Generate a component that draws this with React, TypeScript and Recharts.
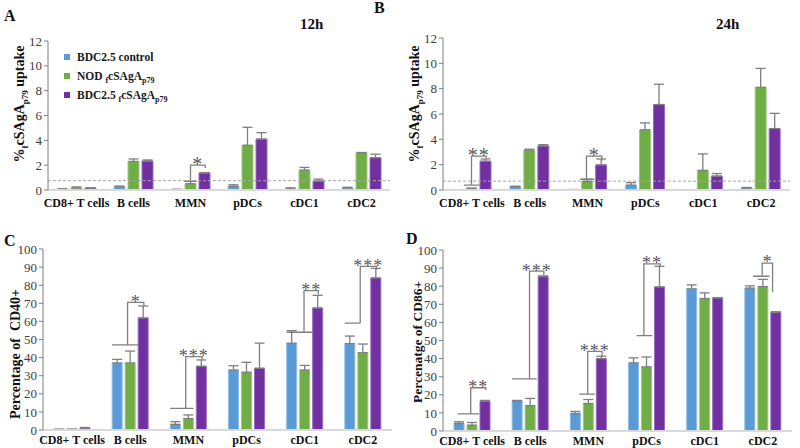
import React from 'react';
import { BarChart, Bar, XAxis, YAxis, ErrorBar, ReferenceLine, Legend, Rectangle } from 'recharts';

const cells = ['CD8+ T cells', 'B cells', 'MMN', 'pDCs', 'cDC1', 'cDC2'];

// A: uptake at 12h
const up12Control = [0.05, 0.25, 0.04, 0.3, 0.08, 0.15];
const up12ControlSd = [0.05, 0.07, 0.02, 0.12, 0.1, 0.07];
const up12Nod = [0.15, 2.3, 0.5, 3.6, 1.6, 2.98];
const up12NodSd = [0.1, 0.2, 0.2, 1.45, 0.22, 0.04];
const up12Bdc = [0.15, 2.33, 1.37, 4.1, 0.72, 2.6];
const up12BdcSd = [0.03, 0.09, 0.03, 0.52, 0.16, 0.28];

// B: uptake at 24h
const up24Control = [0.02, 0.27, 0.03, 0.38, 0, 0.15];
const up24ControlSd = [0.01, 0.03, 0.01, 0.2, 0, 0.05];
const up24Nod = [0.12, 3.15, 0.68, 4.75, 1.55, 8.1];
const up24NodSd = [0.03, 0.07, 0.17, 0.55, 1.3, 1.5];
const up24Bdc = [2.27, 3.48, 1.98, 6.75, 1.1, 4.85];
const up24BdcSd = [0.18, 0.1, 0.47, 1.6, 0.2, 1.2];

// C: CD40+
const cd40Control = [0.3, 37, 3.1, 33.1, 47.9, 47.7];
const cd40ControlSd = [0.2, 2, 1.5, 2.4, 7, 4.2];
const cd40Nod = [0.3, 37, 6.3, 31.9, 33.1, 42.7];
const cd40NodSd = [0.2, 6.6, 2, 5.5, 2.6, 4.8];
const cd40Bdc = [1.1, 61.9, 35.2, 34.1, 67.4, 84];
const cd40BdcSd = [0.3, 6.6, 3.5, 13.9, 7, 5.3];

// D: CD86+
const cd86Control = [4.2, 16.5, 9.7, 37.6, 78.5, 78.9];
const cd86ControlSd = [0.9, 0.4, 1.1, 2.8, 2.2, 1.3];
const cd86Nod = [3.2, 14, 15.2, 35.4, 73.2, 79.8];
const cd86NodSd = [1.5, 4, 2.2, 5.5, 3.1, 4];
const cd86Bdc = [16.5, 85.3, 40, 79.6, 73.4, 65.5];
const cd86BdcSd = [0.4, 0.4, 1.3, 11.4, 0.3, 0.4];

const uptakeTicks = [0, 2, 4, 6, 8, 10, 12];
const percentTicks = [0, 10, 20, 30, 40, 50, 60, 70, 80, 90, 100];

// significance brackets: heights in data units, horizontal spots in bar slots (0 blue, 1 green, 2 purple)
type Bracket = { cell: string; low: number; from: number; to: number; vert: number; top: number; end: number; at?: number; stars: string };

const bracketsA: Bracket[] = [
  { cell: 'MMN', low: 0.7, from: 0.55, to: 1.45, vert: 1, top: 2.0, end: 1.78, stars: '*' },
];
const bracketsB: Bracket[] = [
  { cell: 'CD8+ T cells', low: 0.39, from: 0.45, to: 1.6, vert: 1, top: 2.68, end: 2.5, stars: '**' },
  { cell: 'MMN', low: 0.85, from: 0.5, to: 1.5, vert: 0.95, top: 2.68, end: 2.3, stars: '*' },
];
const bracketsC: Bracket[] = [
  { cell: 'B cells', low: 47, from: -0.4, to: 1.6, vert: 0.8, top: 70.5, end: 68.5, stars: '*' },
  { cell: 'MMN', low: 12, from: -0.4, to: 1.4, vert: 0.8, top: 40.5, end: 38.7, stars: '***' },
  { cell: 'cDC1', low: 54, from: -0.4, to: 1.6, vert: 0.95, top: 77, end: 75, stars: '**' },
  { cell: 'cDC2', low: 59, from: -0.4, to: 0.75, vert: 0.8, top: 90.4, end: 88.6, stars: '***' },
];
const bracketsD: Bracket[] = [
  { cell: 'CD8+ T cells', low: 9.5, from: -0.1, to: 1.55, vert: 0.9, top: 23.9, end: 22.5, stars: '**' },
  { cell: 'B cells', low: 28.8, from: -0.4, to: 1.5, vert: 0.95, top: 88.3, end: 86.2, stars: '***' },
  { cell: 'MMN', low: 20.4, from: 0.3, to: 1.5, vert: 0.95, top: 44, end: 41.5, stars: '***' },
  { cell: 'pDCs', low: 52.7, from: 0.25, to: 1.45, vert: 0.8, top: 92.3, end: 91, stars: '**' },
  { cell: 'cDC2', low: 85.5, from: 0.25, to: 1.5, vert: 0.95, top: 92.8, end: 76.7, at: 1.75, stars: '*' },
];

const BLUE = '#5B9BD5';
const GREEN = '#70AD47';
const PURPLE = '#7030A0';
const SERIF = '"Liberation Serif", "Times New Roman", serif';
const BAR_GAP = 3;

function buildRows(c: number[], cs: number[], n: number[], ns: number[], b: number[], bs: number[]) {
  return cells.map((cell, i) => ({
    cell,
    control: c[i], controlErr: [0, cs[i]],
    nod: n[i], nodErr: [0, ns[i]],
    bdc: b[i], bdcErr: [0, bs[i]],
  }));
}

const rowsA = buildRows(up12Control, up12ControlSd, up12Nod, up12NodSd, up12Bdc, up12BdcSd);
const rowsB = buildRows(up24Control, up24ControlSd, up24Nod, up24NodSd, up24Bdc, up24BdcSd);
const rowsC = buildRows(cd40Control, cd40ControlSd, cd40Nod, cd40NodSd, cd40Bdc, cd40BdcSd);
const rowsD = buildRows(cd86Control, cd86ControlSd, cd86Nod, cd86NodSd, cd86Bdc, cd86BdcSd);

// purple bar draws itself plus the bracket sitting on its group
const purpleShape = (brackets: Bracket[], starSize: number) => (props: any) => {
  const { x, y, width, height, payload } = props;
  const b = brackets.find((d) => d.cell === payload.cell);
  let extra = null;
  if (b && payload.bdc > 0 && height > 0) {
    const base = y + height;
    const ppu = height / payload.bdc;
    const py = (v: number) => base - v * ppu;
    const step = width + BAR_GAP;
    const px = (s: number) => x + width / 2 + (s - 2) * step;
    const at = b.at ?? 2.05;
    const d = `M${px(b.from)},${py(b.low)}H${px(b.to)}M${px(b.vert)},${py(b.low)}V${py(b.top)}H${px(at)}V${py(b.end)}`;
    extra = (
      <g>
        <path d={d} fill="none" stroke="#7F7F7F" strokeWidth={1.3} />
        <text x={(px(b.vert) + px(at)) / 2} y={py(b.top) + starSize * 0.3} textAnchor="middle"
          fontFamily={SERIF} fontSize={starSize} fill="#595959" letterSpacing={1}>{b.stars}</text>
      </g>
    );
  }
  return (
    <g>
      <Rectangle x={x} y={y} width={width} height={height} fill={PURPLE} stroke="#9A6BC0" strokeWidth={1} />
      {extra}
    </g>
  );
};

const sub = (t: string) => <span style={{ fontSize: 8, verticalAlign: -3, lineHeight: 0 }}>{t}</span>;

const legendOrder = ['control', 'nod', 'bdc'];
const legendText: Record<string, React.ReactNode> = {
  control: <>BDC2.5 control</>,
  nod: <>NOD {sub('f')}cSAgA{sub('p79')}</>,
  bdc: <>BDC2.5 {sub('f')}cSAgA{sub('p79')}</>,
};

function LegendBox(props: any) {
  const items = props.payload || [];
  const colorOf = (k: string) => (items.find((it: any) => it.dataKey === k) || {}).color;
  return (
    <div style={{ fontFamily: SERIF, fontWeight: 700, fontSize: 11.5, color: '#1a1a1a' }}>
      {legendOrder.map((k) => (
        <div key={k} style={{ display: 'flex', alignItems: 'center', height: 19 }}>
          <span style={{ display: 'inline-block', width: 6, height: 6, background: colorOf(k), marginRight: 7 }} />
          <span style={{ lineHeight: '12px' }}>{legendText[k]}</span>
        </div>
      ))}
    </div>
  );
}

type PanelProps = {
  rows: any[];
  max: number;
  ticks: number[];
  brackets: Bracket[];
  margin: { top: number; right: number; left: number; bottom: number };
  yWidth: number;
  xHeight: number;
  xTickSize: number;
  barSize: number;
  starSize: number;
  refY?: number;
  legend?: boolean;
  yLabel: React.ReactNode;
};

function Panel(p: PanelProps) {
  return (
    <BarChart width={400} height={224} data={p.rows} margin={p.margin} barGap={BAR_GAP} barSize={p.barSize}>
      <XAxis dataKey="cell" height={p.xHeight} tickLine={false} tickSize={p.xTickSize} tickMargin={2}
        axisLine={{ stroke: '#D9D9D9', strokeWidth: 2 }}
        tick={{ fontFamily: SERIF, fontSize: 12, fontWeight: 700, fill: '#111' }} interval={0} />
      <YAxis domain={[0, p.max]} ticks={p.ticks} width={p.yWidth} interval={0} tickSize={4}
        axisLine={{ stroke: '#7F7F7F' }} tickLine={{ stroke: '#7F7F7F' }}
        tick={{ fontFamily: SERIF, fontSize: 13, fill: '#404040' }} />
      {p.refY !== undefined && (
        <ReferenceLine y={p.refY} stroke="#A6A6A6" strokeDasharray="3 2" strokeWidth={1} />
      )}
      {p.legend && (
        <Legend layout="vertical" verticalAlign="middle" align="center" content={<LegendBox />}
          wrapperStyle={{ left: 64, top: 47, width: 160, height: 57 }} />
      )}
      <Bar dataKey="control" name="BDC2.5 control" fill={BLUE} stroke="#8FBCE6" strokeWidth={1} isAnimationActive={false}>
        <ErrorBar dataKey="controlErr" width={5} stroke="#7F7F7F" strokeWidth={1.3} direction="y" />
      </Bar>
      <Bar dataKey="nod" name="NOD fcSAgAp79" fill={GREEN} stroke="#9CCB7E" strokeWidth={1} isAnimationActive={false}>
        <ErrorBar dataKey="nodErr" width={5} stroke="#7F7F7F" strokeWidth={1.3} direction="y" />
      </Bar>
      <Bar dataKey="bdc" name="BDC2.5 fcSAgAp79" fill={PURPLE} isAnimationActive={false}
        shape={purpleShape(p.brackets, p.starSize)}>
        <ErrorBar dataKey="bdcErr" width={5} stroke="#7F7F7F" strokeWidth={1.3} direction="y" />
      </Bar>
      {p.yLabel}
    </BarChart>
  );
}

const uptakeLabel = (x: number, y: number) => (
  <text transform={`translate(${x},${y}) rotate(-90)`} textAnchor="middle" fontFamily={SERIF}
    fontWeight={700} fontSize={14} fill="#111">
    %<tspan fontSize={9} dy={4}>f</tspan><tspan dy={-4}>cSAgA</tspan><tspan fontSize={9} dy={4}>p79</tspan><tspan dy={-4}> uptake</tspan>
  </text>
);

const plainLabel = (x: number, y: number, t: string, size: number) => (
  <text transform={`translate(${x},${y}) rotate(-90)`} textAnchor="middle" fontFamily={SERIF}
    fontWeight={700} fontSize={size} fill="#111" style={{ whiteSpace: 'pre' }}>{t}</text>
);

const tag = (t: string, left: number, top: number, size = 16): React.CSSProperties => ({
  position: 'absolute', left, top, fontFamily: SERIF, fontWeight: 700, fontSize: size, color: '#111', lineHeight: 1,
});

export default function App() {
  return (
    <div style={{ position: 'absolute', left: 0, top: 0, width: 800, height: 448, background: '#fff', overflow: 'hidden' }}>
      <div style={{ position: 'absolute', left: 0, top: 0 }}>
        <Panel rows={rowsA} max={12} ticks={uptakeTicks} brackets={bracketsA}
          margin={{ top: 41, right: 10, left: 0, bottom: 4 }} yWidth={48} xHeight={30} xTickSize={6} barSize={11}
          starSize={20} refY={0.75} legend yLabel={uptakeLabel(24, 104)} />
      </div>
      <div style={{ position: 'absolute', left: 400, top: 0 }}>
        <Panel rows={rowsB} max={12} ticks={uptakeTicks} brackets={bracketsB}
          margin={{ top: 38, right: 10, left: 0, bottom: 4 }} yWidth={43} xHeight={30} xTickSize={6} barSize={11}
          starSize={20} refY={0.7} yLabel={uptakeLabel(19, 104)} />
      </div>
      <div style={{ position: 'absolute', left: 0, top: 224 }}>
        <Panel rows={rowsC} max={100} ticks={percentTicks} brackets={bracketsC}
          margin={{ top: 25, right: 8, left: 0, bottom: 0 }} yWidth={43} xHeight={18} xTickSize={3} barSize={10}
          starSize={18} yLabel={plainLabel(20, 130, 'Percentage of  CD40+', 14)} />
      </div>
      <div style={{ position: 'absolute', left: 400, top: 224 }}>
        <Panel rows={rowsD} max={100} ticks={percentTicks} brackets={bracketsD}
          margin={{ top: 26, right: 8, left: 0, bottom: 0 }} yWidth={43} xHeight={17} xTickSize={3} barSize={10}
          starSize={18} yLabel={plainLabel(22, 118, 'Percenatge of CD86+', 13.5)} />
      </div>
      <div style={tag('A', 4, 8)}>A</div>
      <div style={tag('B', 374, 0)}>B</div>
      <div style={tag('C', 4, 233)}>C</div>
      <div style={tag('D', 406, 231)}>D</div>
      <div style={tag('12h', 300, 17, 15)}>12h</div>
      <div style={tag('24h', 716, 17, 15)}>24h</div>
    </div>
  );
}
